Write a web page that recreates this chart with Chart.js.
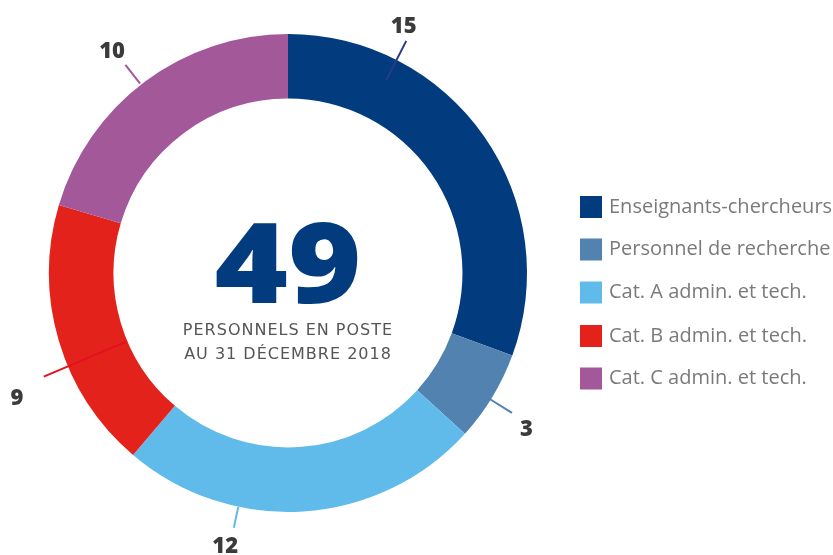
<!DOCTYPE html>
<html><head><meta charset="utf-8">
<script src="https://cdn.jsdelivr.net/npm/chart.js@4/dist/chart.umd.min.js"></script>
<style>html,body{margin:0;padding:0;background:#fff;}#wrap{width:833px;height:555px;position:relative;}</style>
</head><body><div id="wrap"><canvas id="c" width="833" height="555"></canvas></div>
<script>
const categories = ["Enseignants-chercheurs","Personnel de recherche","Cat. A admin. et tech.","Cat. B admin. et tech.","Cat. C admin. et tech."];
const values = [15, 3, 12, 9, 10];
const colors = ["#023b7e", "#5182b0", "#60bbea", "#e3231b", "#a3589a"];
const lineColors = ["#2a3a8a", "#5182b0", "#60bbea", "#e3101f", "#a3589a"];
const lineAngles = [27, 122, 192, 247, 322];
const labelAngles = [25, 123, 193, 245.4, 321.7];
const total = 49;
const centerLines = ["PERSONNELS EN POSTE", "AU 31 DÉCEMBRE 2018"];

const labelPlugin = {
  id: 'labels',
  afterDraw(chart) {
    const ctx = chart.ctx;
    const arc = chart.getDatasetMeta(0).data[0];
    const cx = arc.x, cy = arc.y, R = arc.outerRadius;
    const lineR = [[0.905,1.09],[0.995,1.105],[1.0,1.09],[0.735,1.11],[1.005,1.105]];
    const textR = [1.146, 1.19, 1.167, 1.247, 1.188];
    values.forEach((v,i)=>{
      const a = lineAngles[i]*Math.PI/180;
      const sx = Math.sin(a), sy = -Math.cos(a);
      const [r0,r1] = lineR[i];
      ctx.save();
      ctx.strokeStyle = lineColors[i]; ctx.lineWidth = 2;
      ctx.beginPath();
      ctx.moveTo(cx+sx*R*r0, cy+sy*R*r0);
      ctx.lineTo(cx+sx*R*r1, cy+sy*R*r1);
      ctx.stroke();
      const b = labelAngles[i]*Math.PI/180;
      ctx.fillStyle = "#3b3b3b";
      ctx.font = "800 22px 'Open Sans', sans-serif";
      ctx.textAlign = "center"; ctx.textBaseline = "middle";
      ctx.fillText(String(v), cx+Math.sin(b)*R*textR[i], cy-Math.cos(b)*R*textR[i]+2);
      ctx.restore();
    });
    // center
    ctx.save();
    ctx.fillStyle = "#023b7e";
    ctx.font = "900 112px 'Open Sans', sans-serif";
    ctx.textAlign = "center"; ctx.textBaseline = "alphabetic";
    ctx.save();
    ctx.translate(cx, cy+30);
    ctx.scale(1.12, 1);
    ctx.fillText(String(total), 0, 0);
    ctx.restore();
    ctx.fillStyle = "#555555";
    ctx.font = "16px 'DejaVu Sans', sans-serif";
    ctx.letterSpacing = "1px";
    ctx.fillText(centerLines[0], cx, cy+62);
    ctx.fillText(centerLines[1], cx, cy+86);
    ctx.letterSpacing = "0px";
    // legend
    const ys = [207, 249.5, 292.5, 336, 378.5];
    categories.forEach((c,i)=>{
      ctx.fillStyle = colors[i];
      ctx.fillRect(580, ys[i]-11, 22, 22);
      ctx.fillStyle = "#7a7a7a";
      ctx.font = "20px 'Open Sans', sans-serif";
      ctx.textAlign = "left"; ctx.textBaseline = "middle";
      ctx.fillText(c, 609, ys[i]);
    });
    ctx.restore();
  }
};

new Chart(document.getElementById('c'), {
  type: 'doughnut',
  data: { labels: categories, datasets: [{ data: values, backgroundColor: colors, borderWidth: 0 }] },
  options: {
    responsive: false, animation: false, cutout: '73%',
    layout: { padding: { left: 49, right: 306, top: 34, bottom: 43 } },
    plugins: { legend: { display: false }, tooltip: { enabled: false } }
  },
  plugins: [labelPlugin]
});
</script></body></html>
